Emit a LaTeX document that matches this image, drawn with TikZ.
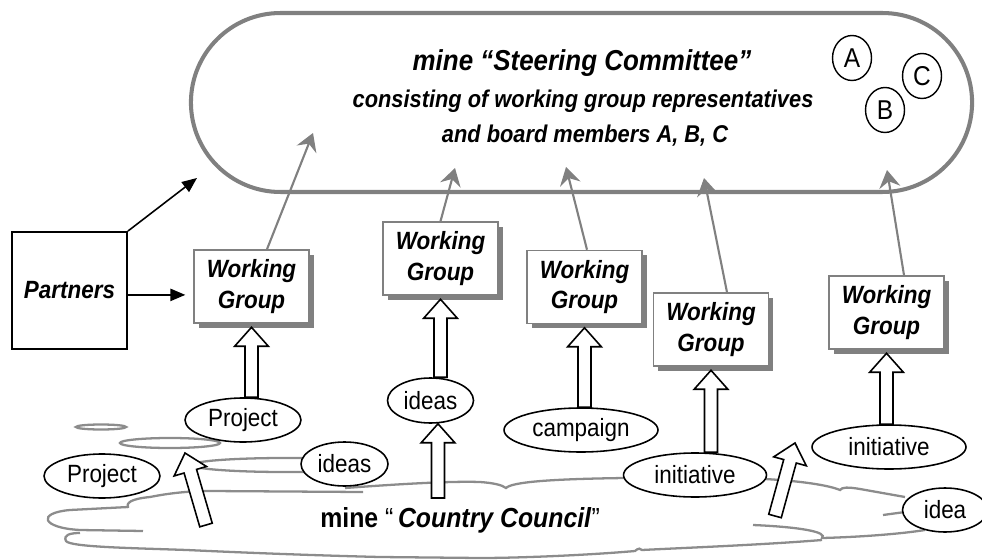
\documentclass[tikz,border=0pt]{standalone}
\usepackage{fontspec}
\setmainfont{Liberation Sans}[FakeStretch=0.9]
\usetikzlibrary{arrows.meta,calc,shapes.geometric,shapes.misc,shadows}
\definecolor{linegray}{RGB}{128,128,128}
\definecolor{cloudgray}{RGB}{140,140,140}
\newcommand{\wgfont}{\fontsize{14.2}{17.5}\selectfont\bfseries\itshape}
\newcommand{\bubblefont}{\fontsize{14.2}{17}\selectfont}
\newcommand{\memberfont}{\fontsize{15.5}{17}\selectfont}
\newcommand{\steerfont}{\fontsize{16.4}{20}\selectfont\bfseries\itshape}
\newcommand{\steersubfont}{\fontsize{13.8}{17}\selectfont\bfseries\itshape}
\newcommand{\councilfont}{\fontsize{15.7}{19}\selectfont}
\newcommand{\fatarrow}[2]{%
  \path (#1) coordinate (fa-s) (#2) coordinate (fa-e);
  \coordinate (fa-h) at ($(fa-e)!10.8pt!(fa-s)$);
  \draw[blockarrow] ($(fa-s)!3.7pt!90:(fa-e)$) -- ($(fa-h)!3.7pt!90:(fa-e)$)
    -- ($(fa-h)!9.6pt!90:(fa-e)$) -- (fa-e) -- ($(fa-h)!9.6pt!-90:(fa-e)$)
    -- ($(fa-h)!3.7pt!-90:(fa-e)$) -- ($(fa-s)!3.7pt!-90:(fa-e)$) -- cycle;}
\begin{document}
\begin{tikzpicture}[x=0.02cm,y=-0.02cm,
  wg/.style={draw=linegray,line width=0.9pt,fill=white,minimum width=2.3cm,
    minimum height=1.46cm,align=center,inner sep=0pt,font=\wgfont,
    drop shadow={shadow xshift=2.8pt,shadow yshift=-2.8pt,fill=linegray,opacity=1}},
  bubble/.style={draw,ellipse,line width=0.9pt,fill=white,inner sep=0pt,
    minimum height=0.88cm,font=\bubblefont},
  member/.style={draw,ellipse,line width=0.8pt,inner sep=0pt,
    minimum width=0.78cm,minimum height=0.9cm,font=\memberfont},
  feed/.style={draw=linegray,line width=1.2pt,-{Stealth[length=10pt,width=12pt,inset=3.5pt]}},
  push/.style={line width=0.9pt,-{Triangle[length=8.5pt,width=7pt]}},
  cloudline/.style={draw=cloudgray,line width=1.3pt},
  blockarrow/.style={draw,fill=white,line width=0.9pt,line join=miter}]
\useasboundingbox (0,0) rectangle (982,560);
\node[draw=linegray,line width=2.3pt,rounded rectangle,minimum width=15.86cm,
  minimum height=3.58cm] (steer) at (581.5,102.5) {};
\node[anchor=base,font=\steerfont] (title) at (582,71) {mine “Steering Committee”};
\node[anchor=base,font=\steersubfont] (sub1) at (583,108) {consisting of working group representatives};
\node[anchor=base,font=\steersubfont] (sub2) at (585,143) {and board members A, B, C};
\node[member] (ma) at (852,58) {A};
\node[member] (mc) at (922,76) {C};
\node[member] (mb) at (885,110) {B};
\node[draw,line width=1.1pt,minimum width=2.3cm,minimum height=2.34cm,
  font=\wgfont] (partners) at (69.5,290.5) {Partners};
\node[wg] (wg1) at (251.5,286.5) {Working\\Group};
\node[wg] (wg2) at (440.5,258.5) {Working\\Group};
\node[wg] (wg3) at (584.5,287) {Working\\Group};
\node[wg] (wg4) at (711,329.5) {Working\\Group};
\node[wg] (wg5) at (886.5,312.5) {Working\\Group};
\coordinate (f1) at (313,133);
\coordinate (f2) at (455,168);
\coordinate (f3) at (566,167);
\coordinate (f4) at (704,178);
\coordinate (f5) at (887,170);
\coordinate (pin) at (197,178);
\draw[feed] ($(wg1.north)+(15.5,0)$) -- (f1);
\draw[feed] (wg2.north) -- (f2);
\draw[feed] ($(wg3.north)+(2.5,0)$) -- (f3);
\draw[feed] ($(wg4.north)+(16,0)$) -- (f4);
\draw[feed] ($(wg5.north)+(17.5,0)$) -- (f5);
\draw[push] (partners.north east) -- (pin);
\draw[push,shorten >=4.5pt] ([yshift=-2.5pt]partners.east) -- ([yshift=-2.5pt]partners.east -| wg1.west);
\draw[cloudline] (101,427) ellipse [x radius=25,y radius=2.5];
\draw[cloudline] (170,443) ellipse [x radius=50,y radius=5];
\draw[cloudline] (285,465) ellipse [x radius=93,y radius=7];
\draw[cloudline] (143,531) -- (80,530) .. controls (42,528) and (36,513) .. (70,510) -- (128,507);
\draw[cloudline] (128,508) .. controls (126,503) and (130,499) .. (150,497)
  .. controls (170,493) and (190,491) .. (210,491) -- (363,492);
\draw[cloudline] (345,488) .. controls (400,484) and (450,481) .. (480,482)
  .. controls (494,483) and (502,485) .. (506,488) .. controls (512,482) and (550,479) .. (625,478);
\draw[cloudline] (765,479) .. controls (800,481) and (828,485) .. (840,490)
  .. controls (842,487) and (848,487) .. (860,489) -- (905,497);
\draw[cloudline] (883,515) -- (905,512);
\draw[cloudline] (753,525) .. controls (800,527) and (828,532) .. (822,538)
  .. controls (860,537) and (900,534) .. (925,530);
\draw[cloudline] (822,540) .. controls (760,545) and (680,548) .. (642,550)
  .. controls (641,548) and (638,548) .. (635,551) .. controls (590,555) and (520,558) .. (480,558)
  -- (380,557) .. controls (300,555) and (230,552) .. (187,550)
  .. controls (130,548) and (70,547) .. (66,541) .. controls (63,535) and (70,533) .. (80,533);
\node[bubble,minimum width=2.32cm] (projU) at (243,420) {Project};
\node[bubble,minimum width=2.32cm] (projL) at (102,476) {Project};
\node[bubble,minimum width=1.74cm] (ideasL) at (344.5,464) {ideas};
\node[bubble,minimum width=1.72cm,minimum height=0.9cm] (ideasU) at (430.5,400.5) {ideas};
\node[bubble,minimum width=3.08cm] (camp) at (581,430) {campaign};
\node[bubble,minimum width=2.86cm] (initL) at (695,475) {initiative};
\node[bubble,minimum width=3.08cm] (initR) at (889,447) {initiative};
\node[bubble,minimum width=1.7cm] (idea) at (945,510) {idea};
\coordinate (cl) at (206,525);
\coordinate (clt) at (185,453);
\coordinate (cm) at (438,498);
\coordinate (cr) at (775,516);
\coordinate (crt) at (795,443);
\fatarrow{wg1.south |- projU.north}{[yshift=-2pt]wg1.south}
\fatarrow{wg2.south |- ideasU.north}{[yshift=-2pt]wg2.south}
\fatarrow{cm}{cm |- ideasU.south}
\fatarrow{wg3.south |- camp.north}{[yshift=-2pt]wg3.south}
\fatarrow{wg4.south |- initL.north}{[yshift=-2pt]wg4.south}
\fatarrow{wg5.south |- initR.north}{[yshift=-2pt]wg5.south}
\fatarrow{cl}{clt}
\fatarrow{cr}{crt}
\node[anchor=base west,inner sep=0pt,font=\councilfont] (council) at (320,527)
  {\textbf{mine} “\,\textbf{\textit{Country Council}}”};
\end{tikzpicture}
\end{document}
